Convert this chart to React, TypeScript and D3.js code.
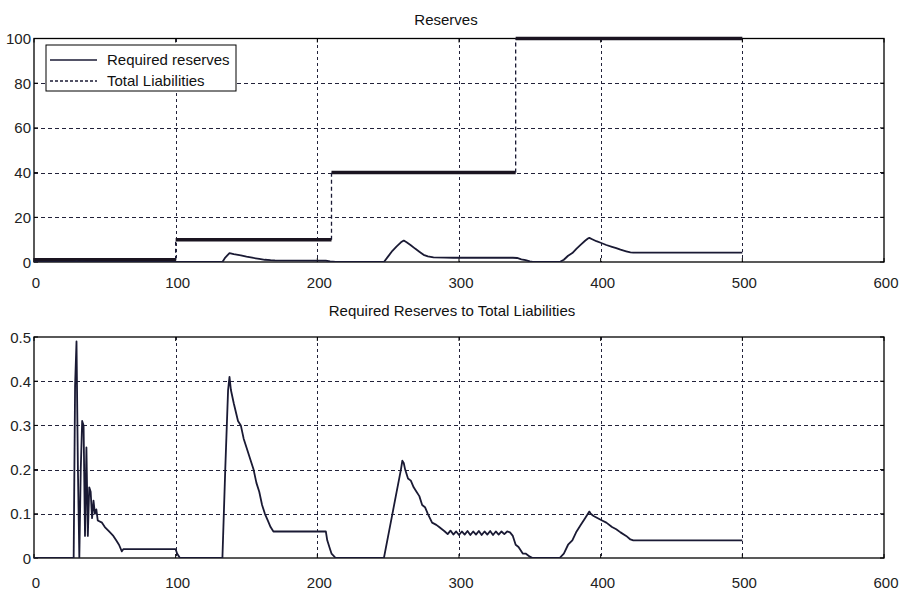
import React from "react";
import * as d3 from "d3";

// ---------- data ----------
const xTicks = [0, 100, 200, 300, 400, 500, 600];
const topYTicks = [0, 20, 40, 60, 80, 100];
const botYTicks = [0, 0.1, 0.2, 0.3, 0.4, 0.5];
const botYTickLabels = ["0", "0.1", "0.2", "0.3", "0.4", "0.5"];

// Total liabilities (step function)
const liabStart = [0, 100, 210, 340];
const liabEnd = [100, 210, 340, 500];
const liabLevel = [1, 10, 40, 100];

// Required reserves (top chart)
const resX = [0, 28, 30, 32, 34, 37, 40, 50, 60, 63, 100, 103, 133, 135, 138, 141, 146, 150, 155, 159, 163, 167, 170, 206, 209, 213,
  247, 250, 253, 256, 259, 261, 263, 266, 269, 272, 275, 278, 282, 290, 296, 302, 308, 314, 320, 326, 332, 338, 341, 344, 347, 350, 352,
  371, 374, 377, 380, 383, 386, 389, 391, 392, 394, 397, 400, 404, 408, 411, 414, 418, 421, 423, 500];
const resY = [0, 0, 0.45, 0, 0.3, 0.1, 0.15, 0.07, 0.03, 0.02, 0.02, 0, 0, 2, 4, 3.5, 3.0, 2.4, 1.8, 1.4, 1.0, 0.8, 0.7, 0.6, 0.3, 0,
  0, 2.5, 5, 7, 8.8, 9.6, 8.8, 7.5, 6.0, 4.6, 3.2, 2.5, 2.1, 2.0, 1.9, 2.0, 1.9, 2.0, 1.9, 2.0, 1.9, 1.9, 1.8, 1.2, 0.8, 0.3, 0,
  0, 1, 2.8, 4, 6, 7.8, 9.5, 10.5, 10.8, 10.2, 9.3, 8.6, 7.6, 6.8, 6.2, 5.5, 4.8, 4.3, 4.2, 4.2];

// Required reserves to total liabilities (bottom chart)
const ratioX = [0, 28, 29, 30, 31, 32, 33, 34, 35, 36, 37, 38, 39, 40, 41, 42, 43, 44, 45, 48, 50, 53, 56, 58, 60, 62, 63, 100, 101, 103,
  133, 135, 137, 138, 139, 141, 144, 146, 148, 150, 153, 155, 157, 159, 161, 163, 165, 167, 169, 206, 207, 209, 210, 213,
  247, 250, 253, 256, 259, 260, 261, 262, 264, 266, 268, 270, 272, 274, 276, 278, 281, 284, 286, 288, 290,
  292, 294, 296, 298, 300, 302, 304, 306, 308, 310, 312, 314, 316, 318, 320, 322, 324, 326, 328, 330, 332, 334, 336,
  338, 340, 342, 345, 347, 350, 352, 371, 374, 377, 380, 383, 386, 389, 391, 392, 393, 395, 398, 401, 404, 408, 411, 414, 418, 421, 423, 500];
const ratioY = [0, 0, 0.39, 0.49, 0.2, 0, 0.2, 0.31, 0.3, 0.05, 0.25, 0.05, 0.16, 0.15, 0.09, 0.13, 0.1, 0.11, 0.085, 0.08, 0.07, 0.06, 0.05, 0.04, 0.03, 0.015, 0.02, 0.02, 0.01, 0,
  0, 0.2, 0.38, 0.41, 0.38, 0.35, 0.31, 0.3, 0.27, 0.25, 0.22, 0.2, 0.17, 0.15, 0.12, 0.1, 0.085, 0.07, 0.06, 0.06, 0.04, 0.02, 0.01, 0,
  0, 0.05, 0.1, 0.15, 0.2, 0.22, 0.215, 0.2, 0.18, 0.175, 0.16, 0.15, 0.14, 0.12, 0.115, 0.1, 0.08, 0.075, 0.07, 0.065, 0.06,
  0.054, 0.062, 0.053, 0.06, 0.052, 0.06, 0.053, 0.061, 0.052, 0.06, 0.053, 0.061, 0.052, 0.06, 0.053, 0.061, 0.052, 0.06, 0.053, 0.06, 0.054, 0.06, 0.058,
  0.05, 0.03, 0.025, 0.01, 0.01, 0.003, 0, 0, 0.01, 0.03, 0.04, 0.06, 0.075, 0.09, 0.1, 0.105, 0.1, 0.095, 0.09, 0.085, 0.08, 0.07, 0.065, 0.058, 0.05, 0.042, 0.04, 0.04];

// ---------- layout ----------
const W = 899, H = 594;
const L = 34, R = 884;
const top1 = 38.5, bot1 = 262;
const top2 = 337, bot2 = 558;
const FONT = "'Liberation Sans', Arial, sans-serif";
const GRID = "#22223a";
const LINE = "#1a1a34";

export default function App() {
  const x = d3.scaleLinear().domain([0, 600]).range([L, R]);
  const y1 = d3.scaleLinear().domain([0, 100]).range([bot1, top1]);
  const y2 = d3.scaleLinear().domain([0, 0.5]).range([bot2, top2]);

  const resLine = d3.line<number>().x((_, i) => x(resX[i])).y((d) => y1(d))(resY) || "";
  const ratioLine = d3.line<number>().x((_, i) => x(ratioX[i])).y((d) => y2(d))(ratioY) || "";

  const grid = (yS: d3.ScaleLinear<number, number>, yTicks: number[], t: number, b: number) => (
    <g>
      {xTicks.slice(1, -1).map((v) => (
        <line key={"gx" + v} x1={Math.round(x(v)) + 0.5} x2={Math.round(x(v)) + 0.5} y1={t} y2={b} stroke={GRID} strokeWidth={1} strokeDasharray="3,3" shapeRendering="crispEdges" />
      ))}
      {yTicks.slice(1, -1).map((v) => (
        <line key={"gy" + v} x1={L} x2={R} y1={Math.round(yS(v)) + 0.5} y2={Math.round(yS(v)) + 0.5} stroke={GRID} strokeWidth={1} strokeDasharray="4,3" shapeRendering="crispEdges" />
      ))}
      {xTicks.map((v) => (
        <g key={"tx" + v}>
          <line x1={x(v)} x2={x(v)} y1={b} y2={b - 4} stroke="#000" />
          <line x1={x(v)} x2={x(v)} y1={t} y2={t + 4} stroke="#000" />
        </g>
      ))}
      {yTicks.map((v) => (
        <g key={"ty" + v}>
          <line x1={L} x2={L + 4} y1={yS(v)} y2={yS(v)} stroke="#000" />
          <line x1={R} x2={R - 4} y1={yS(v)} y2={yS(v)} stroke="#000" />
        </g>
      ))}
      <rect x={L} y={t} width={R - L} height={b - t} fill="none" stroke="#000" strokeWidth={1.3} />
    </g>
  );

  return (
    <svg width={W} height={H} style={{ position: "absolute", left: 0, top: 0, background: "#fff" }} fontFamily={FONT}>
      <rect width={W} height={H} fill="#fff" />
      <defs>
        <clipPath id="c1"><rect x={L} y={top1 - 3} width={R - L} height={bot1 - top1 + 3} /></clipPath>
        <clipPath id="c2"><rect x={L} y={top2} width={R - L} height={bot2 - top2} /></clipPath>
      </defs>

      {/* ---------- top chart ---------- */}
      <text x={446} y={24.5} fontSize={15} textAnchor="middle" fill="#111">Reserves</text>
      {grid(y1, topYTicks, top1, bot1)}
      {topYTicks.map((v) => (
        <text key={"yl1" + v} x={31} y={y1(v) + 5.5} fontSize={15} textAnchor="end" fill="#222">{v}</text>
      ))}
      {xTicks.map((v) => (
        <text key={"xl1" + v} x={x(v) + 2} y={288} fontSize={15} textAnchor="middle" fill="#222">{v}</text>
      ))}
      <g clipPath="url(#c1)">
        {liabLevel.map((lv, i) => (
          <line key={"lh" + i} x1={x(liabStart[i])} x2={x(liabEnd[i])} y1={y1(lv)} y2={y1(lv)} stroke="#1a1420" strokeWidth={3.5} />
        ))}
        {liabLevel.slice(1).map((lv, i) => (
          <line key={"lv" + i} x1={x(liabStart[i + 1])} x2={x(liabStart[i + 1])} y1={y1(liabLevel[i])} y2={y1(lv)} stroke={LINE} strokeWidth={1.3} strokeDasharray="4,3" />
        ))}
        <path d={resLine} fill="none" stroke={LINE} strokeWidth={1.8} strokeLinejoin="round" />
      </g>
      {/* legend */}
      <rect x={46} y={45} width={190} height={46} fill="#fff" stroke="#000" strokeWidth={1} />
      <line x1={50} x2={97} y1={60} y2={60} stroke={LINE} strokeWidth={1.3} />
      <line x1={50} x2={97} y1={81} y2={81} stroke={LINE} strokeWidth={1.3} strokeDasharray="3,2" />
      <text x={107} y={64.5} fontSize={15} fill="#111">Required reserves</text>
      <text x={107} y={85.5} fontSize={15} fill="#111">Total Liabilities</text>

      {/* ---------- bottom chart ---------- */}
      <text x={452} y={316} fontSize={15} textAnchor="middle" fill="#111">Required Reserves to Total Liabilities</text>
      {grid(y2, botYTicks, top2, bot2)}
      {botYTicks.map((v, i) => (
        <text key={"yl2" + v} x={31} y={y2(v) + 5.5} fontSize={15} textAnchor="end" fill="#222">{botYTickLabels[i]}</text>
      ))}
      {xTicks.map((v) => (
        <text key={"xl2" + v} x={x(v) + 2} y={588} fontSize={15} textAnchor="middle" fill="#222">{v}</text>
      ))}
      <g clipPath="url(#c2)">
        <path d={ratioLine} fill="none" stroke={LINE} strokeWidth={1.8} strokeLinejoin="round" />
      </g>
    </svg>
  );
}
